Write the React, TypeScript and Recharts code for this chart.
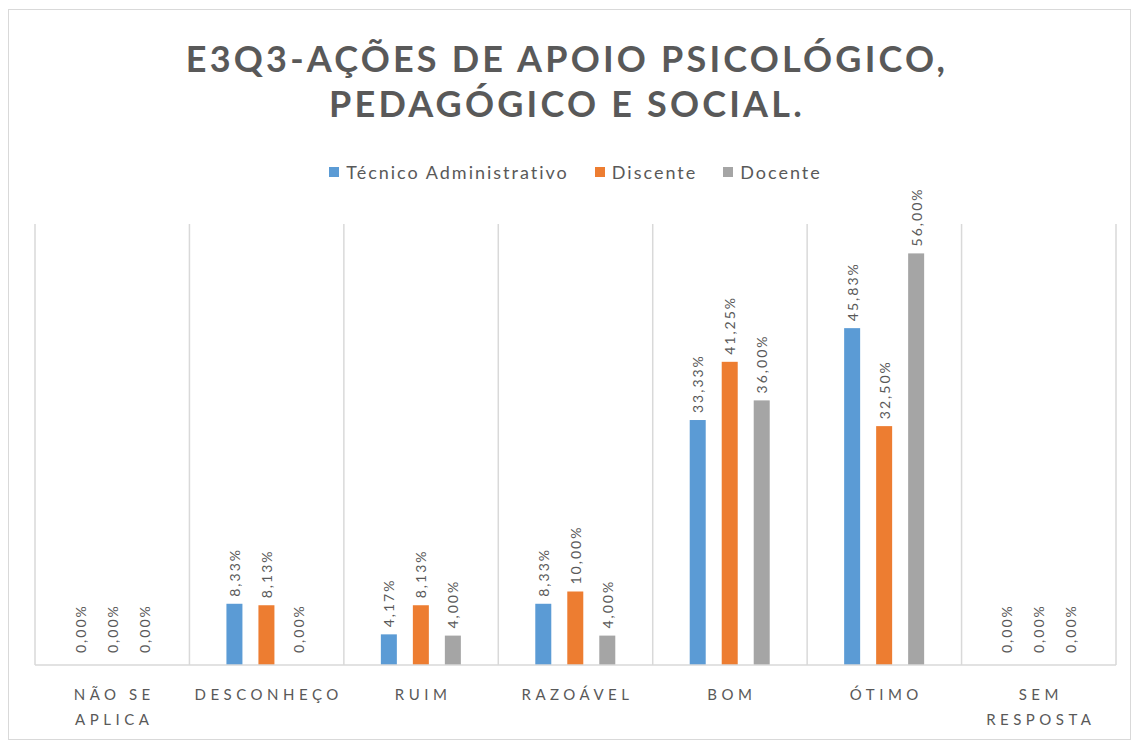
import React from 'react';
import { BarChart, Bar, XAxis, YAxis, CartesianGrid, Legend, LabelList } from 'recharts';

const categories = ['NÃO SE APLICA', 'DESCONHEÇO', 'RUIM', 'RAZOÁVEL', 'BOM', 'ÓTIMO', 'SEM RESPOSTA'];
const tecnicoValues = [0, 8.33, 4.17, 8.33, 33.33, 45.83, 0];
const discenteValues = [0, 8.13, 8.13, 10.0, 41.25, 32.5, 0];
const docenteValues = [0, 0, 4.0, 4.0, 36.0, 56.0, 0];
const seriesNames = ['Técnico Administrativo', 'Discente', 'Docente'];
const seriesColors = ['#5B9BD5', '#ED7D31', '#A5A5A5'];
const titleLines = ['E3Q3-AÇÕES DE APOIO PSICOLÓGICO,', 'PEDAGÓGICO E SOCIAL.'];
const yDomain = [0, 60];

const data = categories.map((c, i) => ({
  category: c,
  tecnico: tecnicoValues[i],
  discente: discenteValues[i],
  docente: docenteValues[i],
}));
const keys = ['tecnico', 'discente', 'docente'];

const TEXT = '#595959';
const GRID = '#D9D9D9';
const FONT = "Lato, 'Open Sans', sans-serif";

const fmt = (v: number) => v.toFixed(2).replace('.', ',') + '%';

function wrap(label: string, max: number): string[] {
  const words = label.split(' ');
  const lines: string[] = [];
  let cur = '';
  for (const w of words) {
    if (!cur) cur = w;
    else if ((cur + ' ' + w).length <= max) cur += ' ' + w;
    else {
      lines.push(cur);
      cur = w;
    }
  }
  if (cur) lines.push(cur);
  return lines;
}

const CategoryTick = (props: any) => {
  const { x, y, payload } = props;
  const lines = wrap(String(payload.value), 10);
  return (
    <text x={x} y={y} textAnchor="middle" fill={TEXT} fontFamily={FONT} fontSize={15} letterSpacing={4.5}>
      {lines.map((l, i) => (
        <tspan key={i} x={x + 2} y={y + 35 + i * 25}>
          {l}
        </tspan>
      ))}
    </text>
  );
};

const makeShape = (k: string) => (props: any) => {
  const { x, y, width, height, fill, payload } = props;
  if (!payload || !payload[k]) return <g />;
  return <rect x={x} y={y} width={width} height={height} fill={fill} />;
};

const makeLabel = (k: string) => (props: any) => {
  const { x, y, width, height, index } = props;
  const v = data[index] ? (data[index] as any)[k] : 0;
  const cx = x + width / 2;
  const top = v ? y : y + (height || 0);
  const cy = top - (v ? 7 : 12);
  return (
    <text
      x={cx}
      y={cy}
      transform={`rotate(-90 ${cx} ${cy})`}
      textAnchor="start"
      dominantBaseline="central"
      fill={TEXT}
      fontFamily={FONT}
      fontSize={14}
      letterSpacing={2}
    >
      {fmt(Number(v))}
    </text>
  );
};

const LegendContent = () => (
  <div
    style={{
      height: 69,
      display: 'flex',
      justifyContent: 'center',
      alignItems: 'flex-start',
      paddingLeft: 0,
      fontFamily: FONT,
      fontSize: 18,
      letterSpacing: 2,
      color: TEXT,
    }}
  >
    {seriesNames.map((n, i) => (
      <div key={n} style={{ display: 'flex', alignItems: 'center', marginRight: i < 2 ? 26 : 0, marginTop: 7 }}>
        <span style={{ width: 10, height: 10, background: seriesColors[i], marginRight: 7, display: 'inline-block' }} />
        <span style={{ lineHeight: '20px' }}>{n}</span>
      </div>
    ))}
  </div>
);

export default function App() {
  return (
    <div style={{ position: 'absolute', left: 0, top: 0, width: 1131, height: 740, overflow: 'hidden', background: '#fff' }}>
      <div
        style={{
          position: 'absolute',
          left: 8,
          top: 9,
          width: 1123,
          height: 731,
          border: `1px solid ${GRID}`,
          boxSizing: 'border-box',
        }}
      />
      <div
        style={{
          position: 'absolute',
          left: 0,
          top: 36,
          width: 1134,
          textAlign: 'center',
          fontFamily: FONT,
          fontWeight: 700,
          fontSize: 36,
          lineHeight: '45px',
          letterSpacing: 3.2,
          color: TEXT,
        }}
      >
        {titleLines.map((l) => (
          <div key={l}>{l}</div>
        ))}
      </div>
      <div style={{ position: 'absolute', left: 0, top: 0 }}>
        <BarChart
          width={1131}
          height={740}
          data={data}
          margin={{ top: 155, right: 15, bottom: 0, left: 35 }}
          barSize={16}
          barGap={16}
        >
          <CartesianGrid
            horizontal={false}
            stroke={GRID}
            strokeWidth={1.5}
            verticalCoordinatesGenerator={(p: any) => {
              const off = p.offset;
              const n = categories.length;
              return Array.from({ length: n + 1 }, (_, i) => off.left + (i * off.width) / n);
            }}
          />
          <XAxis
            dataKey="category"
            height={75}
            interval={0}
            tickLine={false}
            tickSize={0}
            tickMargin={0}
            axisLine={{ stroke: GRID, strokeWidth: 1.5 }}
            tick={<CategoryTick />}
          />
          <YAxis hide domain={yDomain} />
          <Legend verticalAlign="top" content={<LegendContent />} />
          {keys.map((k, i) => (
            <Bar
              key={k}
              dataKey={k}
              name={seriesNames[i]}
              fill={seriesColors[i]}
              minPointSize={1}
              shape={makeShape(k)}
              isAnimationActive={false}
            >
              <LabelList dataKey={k} content={makeLabel(k)} />
            </Bar>
          ))}
        </BarChart>
      </div>
    </div>
  );
}
